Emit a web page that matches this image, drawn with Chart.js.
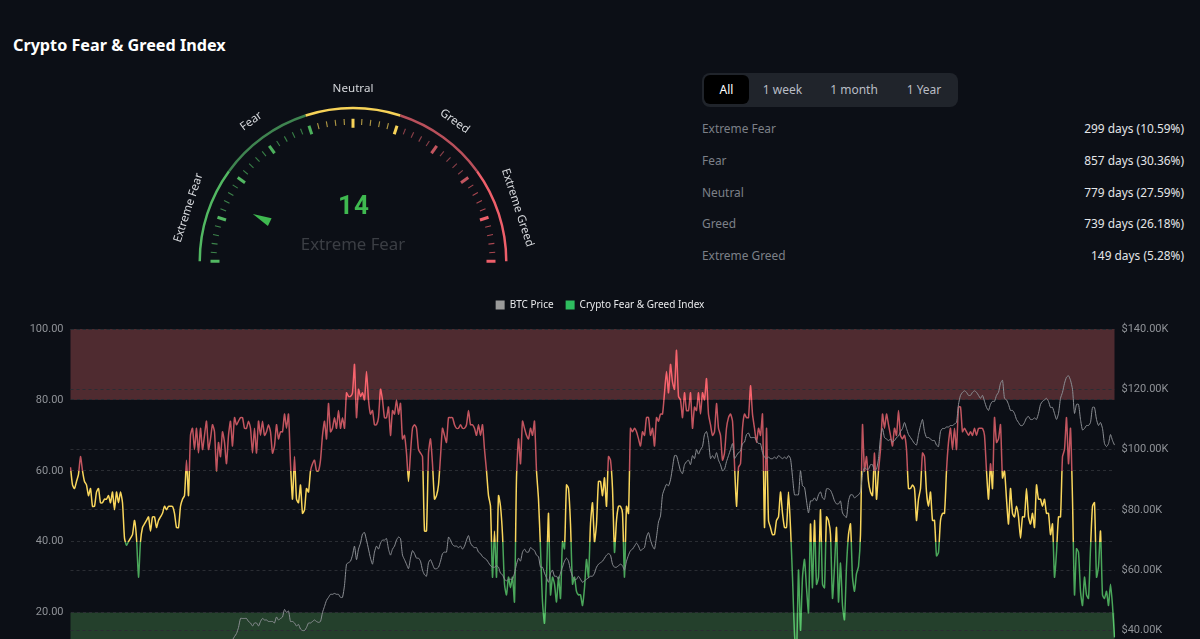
<!DOCTYPE html>
<html>
<head>
<meta charset="utf-8">
<title>Crypto Fear & Greed Index</title>
<script src="https://cdn.jsdelivr.net/npm/chart.js@4/dist/chart.umd.min.js"></script>
<style>
  html, body { margin: 0; height: 639px; overflow: hidden; background: #0c0f16; font-family: "Noto Sans", sans-serif; }
  .abs { position: absolute; white-space: nowrap; }
  #title { left: 13px; top: 33px; font-size: 16.2px; line-height: 24px; font-weight: 700; color: #fff; }
  #gaugeValue { left: 254px; width: 200px; top: 187px; text-align: center; font: 700 26px/36px Roboto, sans-serif; color: #3fb950; letter-spacing: 1px; }
  #gaugeLabel { left: 253px; width: 200px; top: 232px; text-align: center; font-size: 16.8px; line-height: 24px; color: #3b3e44; }
  #tabs { left: 702px; top: 73px; width: 256px; height: 34px; background: #20242b; border-radius: 8px; }
  #tabs div { position: absolute; top: 2px; height: 29px; line-height: 29px; text-align: center; font-size: 12px; color: #b9bdc5; }
  #tabs div.on { background: #000; color: #fff; border-radius: 6px; }
  .row { left: 702px; width: 482px; display: flex; justify-content: space-between; font-size: 11.9px; line-height: 18px; }
  .row span:first-child { color: #7c8088; }
  .row span:last-child { color: #e3e5e8; }
  #gauge { position: absolute; left: 153px; top: 57px; }
  #chart { position: absolute; left: 0; top: 288px; }
</style>
</head>
<body>
<div id="title" class="abs">Crypto Fear &amp; Greed Index</div>
<canvas id="gauge" width="400" height="208"></canvas>
<div id="gaugeValue" class="abs">14</div>
<div id="gaugeLabel" class="abs">Extreme Fear</div>
<div id="tabs" class="abs"></div>
<div id="rows"></div>
<canvas id="chart" width="1200" height="423"></canvas>

<script>
// ---- DATA ----
const zoneNames = ['Extreme Fear', 'Fear', 'Neutral', 'Greed', 'Extreme Greed'];
const zoneSizes = [20, 20, 20, 20, 20];
const zoneDays = ['299 days (10.59%)', '857 days (30.36%)', '779 days (27.59%)', '739 days (26.18%)', '149 days (5.28%)'];
const currentIndex = 14;
const tabNames = ['All', '1 week', '1 month', '1 Year'];

const priceName = 'BTC Price';
const indexName = 'Crypto Fear & Greed Index';

const indexTicks = [0, 20, 40, 60, 80, 100];
const priceTicks = [40, 60, 80, 100, 120, 140]; // thousands of USD
const bandRanges = [[80, 100], [0, 20]];

// one value per 2px of the plot
const indexValues = [
  61,56,55,57,59,64,60,57,56,53, 55,50,50,54,55,51,51,52,52,53,
  51,54,49,54,51,54,51,41,39,40, 41,42,46,41,30,40,44,45,46,47,
  43,47,47,44,46,47,48,50,49,50, 50,50,48,44,44,50,52,53,63,53,
  70,72,66,72,65,72,66,70,74,66, 69,73,71,60,68,64,71,68,62,70,
  74,67,75,73,74,75,75,72,72,74, 72,65,72,65,74,70,74,70,71,73,
  71,65,67,73,69,71,71,76,72,76, 62,52,64,52,51,56,48,49,55,54,
  60,62,63,60,60,63,70,74,69,79, 71,72,75,72,77,72,75,72,82,81,
  81,82,90,75,83,81,82,80,88,80, 76,77,73,73,75,83,80,75,75,78,
  70,77,76,80,76,
  79,69,70,65,57,65,72,73,72,66, 65,64,43,43,65,69,62,52,53,56,
  64,72,70,68,75,75,75,73,72,72, 73,72,72,73,77,73,73,72,70,73,
  70,73,66,60,53,50,30,43,30,53, 50,42,28,25,30,27,30,23,58,69,
  62,74,72,70,69,72,70,74,60,52, 38,23,17,30,48,25,30,28,23,30,
  24,40,38,56,55,45,28,30,26,25, 25,22,27,35,30,45,51,40,45,57,
  57,53,58,50,64,63,55,37,46,50, 50,48,30,50,48,72,71,72,71,69,
  67,71,70,75,75,70,72,67,75,74, 76,76,82,88,82,90,85,83,94,81,
  80,75,82,77,77,82,72,78,77,82, 76,82,80,86,76,73,70,71,79,72,
  70,63,65,72,75,76,74,62,50,61, 62,72,76,75,75,84,76,72,68,72,
  70,76,44,72,46,44,42,42,46,47, 54,48,44,44,54,44,30,14,8,32,
  15,30,35,27,20,45,27,46,28,30, 49,28,27,47,46,42,24,33,44,23,
  34,22,18,33,42,45,30,26,31,33, 42,73,60,64,57,54,53,65,52,60,
  66,76,72,76,73,70,67,72,70,77, 70,69,70,66,55,55,56,55,46,52,
  55,65,64,54,50,54,46,46,36,37, 46,48,48,60,68,72,66,72,66,78,
  78,71,72,71,70,71,70,72,70,72, 72,72,70,60,52,62,55,75,68,69,
  73,58,60,52,45,55,48,47,50,47, 41,47,47,55,47,45,48,44,56,52,
  52,50,52,48,48,42,45,30,37,47, 47,64,66,75,62,72,52,25,38,37,
  26,22,30,25,24,38,50,51,30,33, 43,25,24,26,22,28,22,13
];

// the price runs below the visible part of the plot for the first 70 samples
const priceHidden = 70;
const priceVisible = [
  37,37,37,37,37,36,37,36.5,37,37, 37,37,38,39,41,44,44,44,44,43,
  42.5,41.5,42.5,42.5,41.5,43,44,43.5,43.5,43, 43,43,42.5,44.5,43.5,44,44.5,47,46,46.5,
  43,43,42.5,41.5,42,40.5,40,40,41,42.5, 42.5,43,43.5,43,42.7,43,46,48,50,51,
  52,52,52.3,52,52,51,51,55,62,62.5, 63,65,68,63.5,67,69,72,72.5,70,67,
  64,62,66,68,67,69,70,70,70.5,67, 65,67,68,70,71,
  70.5,65,63.5,62,60.5,64,66.5,65.5,64,64, 63,60,58.5,58,62.5,63.5,62,60.5,60.5,61,
  63,65.5,66,66,71,70,68.5,68,68,67.5, 68,67,68,70,71.5,69,68,67.5,67.5,66,
  65.5,64.5,64,63.5,62.5,61.5,61,61,61.5,61, 59,58.5,57,56.5,57,57,57,59,62,64,
  63,66,67,66,66,67.5,67,66.5,65,64.5, 61,61,59,57.5,56,59,60,58,58,57,
  59,61,63,64,63,60,58,57,57,58, 57,56,56.5,57,57.5,58,58,59,61,62,
  62.5,63,64,65,65.5,65,62,61,61,61.5, 62,61.5,60,63,65,66.5,67,68,69,68,
  66.5,67,67.5,71,72.5,70,68,67,71,76, 78,85,87,88.5,88,90,94,98,98,95.5,
  93,92,95,96,96.5,95,98,97,100,98.5, 100,101,105,106,103,97,98,97,99,96.5,
  95,93,93.5,96,98,100,102,97,98,99, 99.5,102,102.5,105,105.5,104,104,104,103,102,
  102,99,97.5,97,97.5,97,97,97.5,97,98, 97.5,97,97.5,97,98,97,91,85,85,85,
  93,88,87.5,83,79,83,83,84,83,85, 86,84,83.5,87,87,86.5,85,83,82,82,
  83,79,78,77.5,83,85,85,84,84.5,85, 86,92,94,93.5,93.5,95,95,93,93.5,97,
  104,107,104,103.5,103,103.5,102.5,103,104,104.5, 106,107,109,107,105,104,103,102,101.5,105,
  108,110,106,104,104,103.5,103,103,101.5,101, 106,107,107,107.5,107.5,108,108,108.5,109,115,
  118,119,119.5,119,118,118,119,119.5,119,118, 117,118,116,114,113,115,116,116,118,119,
  122,123,117,116.5,115,113,113,112,110,109, 108,108,109,110.5,111,110,110,110.5,110,112,
  115,116,116.5,117,116,114,114,112,110,112, 117,119,122,124,124.5,123,120,112,115,115,
  110,106.5,107,108,108,109,114,114,110,108, 109,107,102,101,102,105,103,101.5
];
const priceValues = Array(priceHidden).fill(null).concat(priceVisible);
const sampleLabels = indexValues.map((v, i) => i);

// ---- COLOURS ----
const zoneColors = ['#52b862', '#3f8450', '#f7d358', '#b9505b', '#ee5f6a'];
const tickColors = ['#52b862', '#4cb05c', '#f7d358', '#c2555f', '#ee5f6a'];

// ---- HTML PARTS ----
const tabEls = document.getElementById('tabs');
[[2, 45], [46, 69], [117, 70], [187, 70]].forEach(([left, w], i) => {
  const el = document.createElement('div');
  el.textContent = tabNames[i];
  if (i === 0) el.className = 'on';
  el.style.left = left + 'px';
  el.style.width = w + 'px';
  tabEls.appendChild(el);
});
const rowEls = document.getElementById('rows');
zoneNames.forEach((name, i) => {
  const el = document.createElement('div');
  el.className = 'abs row';
  el.style.top = (119 + i * 31.8) + 'px';
  el.innerHTML = `<span>${name}</span><span>${zoneDays[i]}</span>`;
  rowEls.appendChild(el);
});

// ---- GAUGE ----
const tickColorFor = v => tickColors[Math.min(4, Math.floor(Math.max(v - 0.01, 0) / 20))];

const gaugeExtras = {
  id: 'gaugeExtras',
  afterDatasetsDraw(chart) {
    const arc = chart.getDatasetMeta(0).data[0];
    const { ctx } = chart;
    const R = arc.outerRadius;
    const angleOf = v => Math.PI + (v / 100) * Math.PI;
    ctx.save();
    ctx.translate(arc.x, arc.y);

    // scale ticks, every 2 with a heavy one every 10
    for (let v = 0; v <= 100; v += 2) {
      const a = angleOf(v);
      const major = v % 10 === 0;
      const from = major ? R - 21 : R - 18;
      const to = R - 12;
      ctx.strokeStyle = tickColorFor(v);
      ctx.globalAlpha = major ? 1 : 0.7;
      ctx.lineWidth = major ? 3 : 1.1;
      ctx.beginPath();
      ctx.moveTo(Math.cos(a) * from, Math.sin(a) * from);
      ctx.lineTo(Math.cos(a) * to, Math.sin(a) * to);
      ctx.stroke();
    }
    ctx.globalAlpha = 1;

    // needle
    const a = angleOf(currentIndex);
    ctx.rotate(a);
    ctx.fillStyle = '#3fb950';
    ctx.beginPath();
    ctx.moveTo(110.7, 0);
    ctx.lineTo(92, -4.3);
    ctx.lineTo(92, 4.3);
    ctx.closePath();
    ctx.fill();
    ctx.rotate(-a);

    // zone names along the arc
    ctx.fillStyle = '#d5d7db';
    ctx.font = '11.6px "Noto Sans", sans-serif';
    ctx.textAlign = 'center';
    ctx.textBaseline = 'middle';
    zoneNames.forEach((name, i) => {
      const mid = angleOf(10 + i * 20);
      ctx.save();
      ctx.translate(Math.cos(mid) * 173, Math.sin(mid) * 173);
      ctx.rotate(mid + Math.PI / 2);
      ctx.fillText(name, 0, 0);
      ctx.restore();
    });
    ctx.restore();
  }
};

new Chart(document.getElementById('gauge'), {
  type: 'doughnut',
  data: {
    labels: zoneNames,
    datasets: [{ data: zoneSizes, backgroundColor: zoneColors, borderWidth: 0 }]
  },
  options: {
    responsive: false,
    animation: false,
    rotation: -90,
    circumference: 180,
    cutout: '98.4%',
    layout: { padding: { left: 45.5, right: 45.5, top: 46, bottom: 0 } },
    plugins: { legend: { display: false }, tooltip: { enabled: false } }
  },
  plugins: [gaugeExtras]
});

// ---- MAIN CHART ----
// hard colour stops per zone of the index
function indexGradient(chart) {
  const { ctx, chartArea, scales } = chart;
  if (!chartArea) return '#f7d358';
  const top = scales.y.getPixelForValue(100);
  const bottom = scales.y.getPixelForValue(0);
  const g = ctx.createLinearGradient(0, top, 0, bottom);
  const stops = [[0, '#f8636d'], [0.2, '#c2555f'], [0.4, '#f9d65c'], [0.6, '#4aa65a'], [0.8, '#58c46a']];
  stops.forEach(([at, color], i) => {
    g.addColorStop(at, color);
    g.addColorStop(i < stops.length - 1 ? stops[i + 1][0] : 1, color);
  });
  return g;
}

const zoneBands = {
  id: 'zoneBands',
  beforeInit(chart) {
    // extra gap between the legend and the plot
    const fit = chart.legend.fit;
    chart.legend.fit = function () {
      fit.call(this);
      this.height += 9;
    };
  },
  beforeDraw(chart) {
    const { ctx, chartArea, scales } = chart;
    const colors = ['#4f2b30', '#24402c'];
    bandRanges.forEach(([lo, hi], i) => {
      const y0 = scales.y.getPixelForValue(hi);
      const y1 = scales.y.getPixelForValue(lo);
      ctx.fillStyle = colors[i];
      ctx.fillRect(chartArea.left, y0, chartArea.width, y1 - y0);
    });
  }
};

new Chart(document.getElementById('chart'), {
  type: 'line',
  data: {
    labels: sampleLabels,
    datasets: [
      {
        label: priceName,
        data: priceValues,
        yAxisID: 'y1',
        borderColor: '#8b8e93',
        backgroundColor: '#9a9a9a',
        borderWidth: 1,
        pointRadius: 0,
        tension: 0.2
      },
      {
        label: indexName,
        data: indexValues,
        yAxisID: 'y',
        borderColor: ctx => indexGradient(ctx.chart),
        backgroundColor: '#2ebd5f',
        borderWidth: 1.5,
        pointRadius: 0,
        tension: 0.2
      }
    ]
  },
  options: {
    responsive: false,
    animation: false,
    layout: { padding: { top: 0, bottom: 27.5 } },
    plugins: {
      tooltip: { enabled: false },
      legend: {
        position: 'top',
        labels: {
          color: '#e8e9eb',
          font: { size: 10, family: '"Noto Sans", sans-serif' },
          boxWidth: 9,
          boxHeight: 9,
          padding: 12,
          generateLabels: chart => chart.data.datasets.map((d, i) => ({
            text: d.label, fillStyle: d.backgroundColor, strokeStyle: d.backgroundColor,
            lineWidth: 0, datasetIndex: i, fontColor: '#e8e9eb'
          }))
        }
      }
    },
    scales: {
      x: { display: false },
      y: {
        position: 'left',
        min: 0,
        max: 100,
        afterFit: s => { s.width = 70.5; },
        afterBuildTicks: s => { s.ticks = indexTicks.map(value => ({ value })); },
        ticks: { color: '#8f9297', font: { size: 11, family: 'Roboto, sans-serif' }, padding: 7, callback: v => v.toFixed(2) },
        border: { display: false, dash: [3, 3] },
        grid: { color: '#2a2d33', drawTicks: false }
      },
      y1: {
        position: 'right',
        min: 22.43,
        max: 140,
        afterFit: s => { s.width = 85.5; },
        afterBuildTicks: s => { s.ticks = priceTicks.map(value => ({ value })); },
        ticks: { color: '#8f9297', font: { size: 11, family: 'Roboto, sans-serif' }, padding: 7, callback: v => '$' + v + '.00K' },
        border: { display: false, dash: [3, 3] },
        grid: { color: '#2a2d33', drawTicks: false }
      }
    }
  },
  plugins: [zoneBands]
});
</script>
</body>
</html>
